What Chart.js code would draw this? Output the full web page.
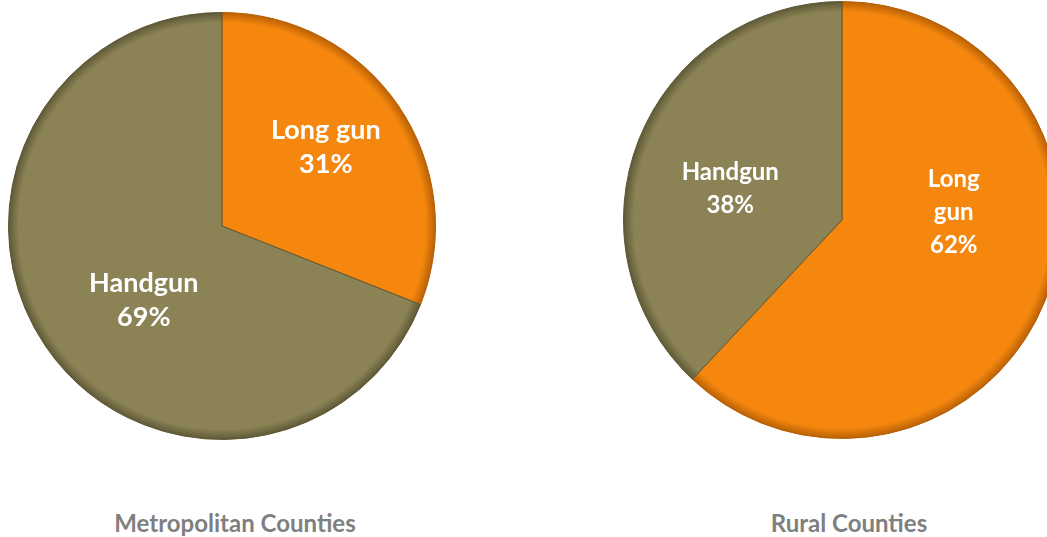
<!DOCTYPE html>
<html>
<head>
<meta charset="utf-8">
<script src="https://cdn.jsdelivr.net/npm/chart.js@4"></script>
<style>
  html, body { margin: 0; padding: 0; background: #fff; overflow: hidden; width: 1047px; height: 537px; }
  .pie-box { position: absolute; top: 0; height: 442px; }
  #metro-box { left: 0; width: 445px; }
  #rural-box { left: 600px; width: 498px; }
  .pie-title {
    position: absolute; top: 508px; width: 300px; text-align: center;
    font: bold 24px Lato, "Open Sans", sans-serif; color: #7F7F7F; line-height: 30px;
  }
  #metro-title { left: 85px; }
  #rural-title { left: 699px; }
</style>
</head>
<body>
<div class="pie-box" id="metro-box"><canvas id="metro-chart"></canvas></div>
<div class="pie-box" id="rural-box"><canvas id="rural-chart"></canvas></div>
<div class="pie-title" id="metro-title"></div>
<div class="pie-title" id="rural-title"></div>
<script>
const categories = ['Long gun', 'Handgun'];
const metroShares = [31, 69];
const ruralShares = [62, 38];
const chartTitles = ['Metropolitan Counties', 'Rural Counties'];

const sliceColors = ['#F5870F', '#8B8355'];
const rimColors = ['#B65F04', '#5C5635'];

document.getElementById('metro-title').textContent = chartTitles[0];
document.getElementById('rural-title').textContent = chartTitles[1];

// white labels inside the slices, placed from each arc's own angle
const sliceLabels = {
    id: 'sliceLabels',
    afterDatasetsDraw(chart, args, opts) {
        const ctx = chart.ctx;
        const meta = chart.getDatasetMeta(0);
        const data = chart.data.datasets[0].data;
        ctx.save();
        ctx.fillStyle = '#fff';
        ctx.textAlign = 'center';
        ctx.textBaseline = 'middle';
        ctx.font = 'bold ' + opts.size + 'px Lato, "Open Sans", sans-serif';
        meta.data.forEach(function (arc, i) {
            const mid = (arc.startAngle + arc.endAngle) / 2;
            const r = arc.outerRadius;
            const nudge = opts.nudge[i] || [0, 0];
            const x = arc.x + Math.cos(mid) * r * opts.frac + nudge[0] * r;
            const y = arc.y + Math.sin(mid) * r * opts.frac + nudge[1] * r;
            const lines = (opts.wrap[i] || [chart.data.labels[i]]).concat([data[i] + '%']);
            lines.forEach(function (t, k) {
                ctx.fillText(t, x, y + (k - (lines.length - 1) / 2) * opts.lineHeight);
            });
        });
        ctx.restore();
    }
};

// darker rim so the slices read a little like the bevelled original
function sliceFill(context) {
    const chart = context.chart;
    const i = context.dataIndex;
    const area = chart.chartArea;
    if (!area) return sliceColors[i];
    const cx = (area.left + area.right) / 2;
    const cy = (area.top + area.bottom) / 2;
    const r = Math.min(area.right - area.left, area.bottom - area.top) / 2;
    const g = chart.ctx.createRadialGradient(cx, cy, 0, cx, cy, r);
    g.addColorStop(0, sliceColors[i]);
    g.addColorStop(0.95, sliceColors[i]);
    g.addColorStop(1, rimColors[i]);
    return g;
}

function makePie(id, shares, padding, labelOpts) {
    return new Chart(document.getElementById(id), {
        type: 'pie',
        data: {
            labels: categories,
            datasets: [{
                data: shares,
                backgroundColor: sliceFill,
                borderColor: rimColors,
                borderWidth: 1
            }]
        },
        options: {
            responsive: true,
            maintainAspectRatio: false,
            animation: false,
            layout: { padding: padding },
            plugins: {
                legend: { display: false },
                tooltip: { enabled: false },
                sliceLabels: labelOpts
            }
        },
        plugins: [sliceLabels]
    });
}

makePie('metro-chart', metroShares,
    { left: 8, right: 9, top: 12, bottom: 2 },
    { size: 27, lineHeight: 34, frac: 0.6, wrap: [], nudge: [[-0.01, -0.03], [0.13, 0.01]] });

makePie('rural-chart', ruralShares,
    { left: 23, right: 37, top: 1, bottom: 3 },
    { size: 24, lineHeight: 33, frac: 0.55, wrap: [['Long', 'gun']], nudge: [[0, -0.24], [0, 0.06]] });
</script>
</body>
</html>
